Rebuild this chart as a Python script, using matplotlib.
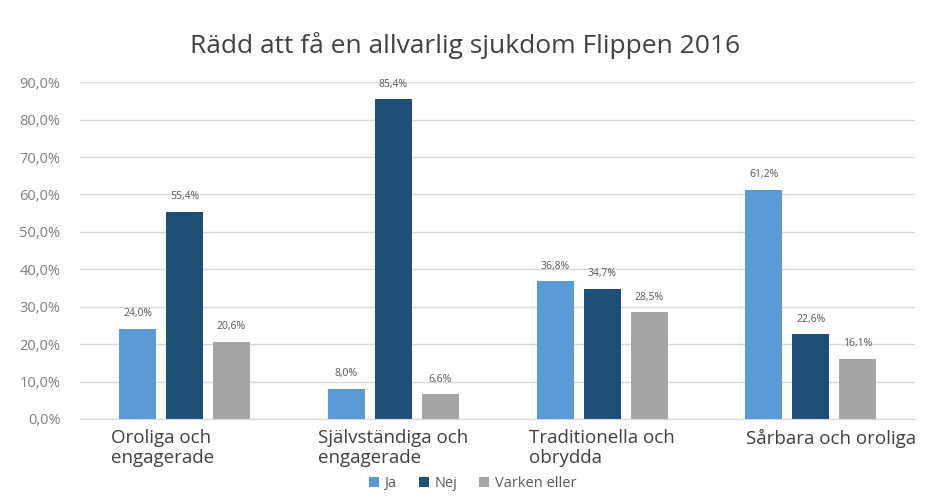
import matplotlib
matplotlib.use("Agg")
import matplotlib.pyplot as plt
import numpy as np

# data
categories = ["Oroliga och\nengagerade", "Självständiga och\nengagerade",
              "Traditionella och\nobrydda", "Sårbara och oroliga"]
ja = [24.0, 8.0, 36.8, 61.2]
nej = [55.4, 85.4, 34.7, 22.6]
varken = [20.6, 6.6, 28.5, 16.1]
series_names = ["Ja", "Nej", "Varken eller"]
colors = ["#5B9BD5", "#1F4E79", "#A5A5A5"]
label_offsets = [-0.35, -0.36, -0.35, -0.31]

plt.rcParams["font.family"] = ["Open Sans", "DejaVu Sans"]

fig = plt.figure(figsize=(9.35, 5.04), dpi=100)
ax = fig.add_axes([0.0856, 0.1687, 0.8934, 0.6683])

x = np.arange(len(categories))
width = 0.177
step = 0.225
for k, (vals, name, c) in enumerate(zip([ja, nej, varken], series_names, colors)):
    pos = x + (k - 1) * step
    ax.bar(pos, vals, width=width, color=c, label=name, zorder=2)
    for p, v in zip(pos, vals):
        ax.text(p, v + 2.6, f"{v:.1f}%".replace(".", ","), ha="center", va="bottom",
                fontsize=7.5, color="#595959")

ax.set_xlim(-0.5, len(categories) - 0.5)
ax.set_ylim(0, 90)
ax.set_yticks(np.arange(0, 91, 10))
ax.set_yticklabels([f"{t:.1f}%".replace(".", ",") for t in np.arange(0, 91, 10)],
                   fontsize=10.5, color="#7F7F7F")
ax.tick_params(axis="y", length=0, pad=14)
ax.set_xticks([])
ax.grid(axis="y", color="#D9D9D9", linewidth=1, zorder=0)
for s in ["top", "right", "left"]:
    ax.spines[s].set_visible(False)
ax.spines["bottom"].set_color("#D9D9D9")

for i, lab in enumerate(categories):
    ax.text(i + label_offsets[i], -2.6, lab, ha="left", va="top", fontsize=13.5,
            color="#404040", linespacing=1.15)

fig.text(0.497, 0.91, "Rädd att få en allvarlig sjukdom Flippen 2016",
         ha="center", va="center", fontsize=19, color="#404040")

ax.legend(loc="upper center", bbox_to_anchor=(0.47, -0.13), ncol=3, frameon=False,
          fontsize=10.5, handlelength=0.7, handleheight=0.7, handletextpad=0.4,
          columnspacing=1.5, labelcolor="#595959")

fig.savefig("out.png", dpi=100)
